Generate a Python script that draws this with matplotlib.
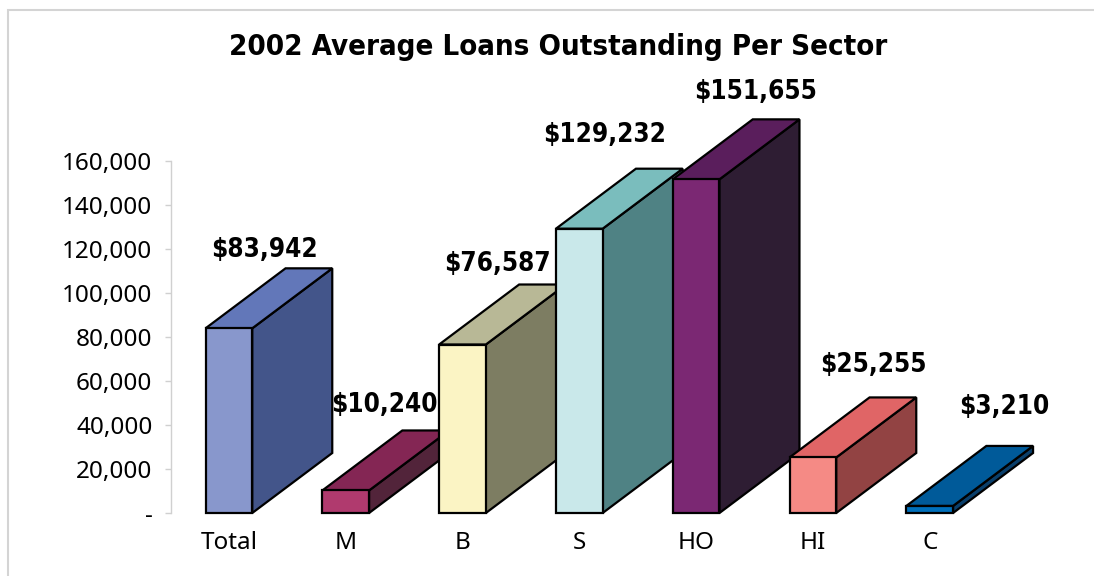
import matplotlib
matplotlib.use('Agg')
import matplotlib.pyplot as plt
from matplotlib.patches import Rectangle

# average loans per sector
categories = ['Total', 'M', 'B', 'S', 'HO', 'HI', 'C']
loans = [83942, 10240, 76587, 129232, 151655, 25255, 3210]
y_ticks = [0, 20000, 40000, 60000, 80000, 100000, 120000, 140000, 160000]
y_tick_labels = ['-', '20,000', '40,000', '60,000', '80,000', '100,000', '120,000', '140,000', '160,000']

front_colors = ['#8897CC', '#B03A6E', '#FBF4C4', '#C9E8EA', '#7B2873', '#F58A85', '#0070BB']
top_colors = ['#6277B9', '#842654', '#B8B896', '#7ABDBD', '#5A1E5C', '#E06566', '#005A99']
side_colors = ['#43558A', '#52243A', '#7D7D62', '#4F8284', '#2E1D33', '#924343', '#0A3F6B']

# where the value labels sit, px from the back top corner of each bar
label_offsets = [(-68, 18), (-65, 25), (-68, 21), (-78, 34), (-44, 27), (-43, 32), (-29, 39)]

plt.rcParams['font.family'] = ['Noto Sans']
bold = dict(family='DejaVu Sans', stretch='condensed', fontweight='bold')

W, H = 1094, 576
fig = plt.figure(figsize=(W / 100, H / 100), dpi=100)
ax = fig.add_axes([170.5 / W, (H - 513) / H, 817.6 / W, 352 / H])
ax.set_xlim(-0.5, 6.5)
ax.set_ylim(0, 160000)

bar_w = 0.4
depth_x = 80 / 116.8
depth_y = 60 / 352 * 160000
edge = dict(edgecolor='black', linewidth=1.6, joinstyle='miter', clip_on=False)

# later bars cover the sides of earlier ones, so draw left to right
for i, v in enumerate(loans):
    l, r = i - bar_w / 2, i + bar_w / 2
    ax.fill([r, r + depth_x, r + depth_x, r], [0, depth_y, v + depth_y, v],
            facecolor=side_colors[i], zorder=3 + i, **edge)
    ax.fill([l, r, r + depth_x, l + depth_x], [v, v, v + depth_y, v + depth_y],
            facecolor=top_colors[i], zorder=3 + i, **edge)
    ax.bar(i, v, width=bar_w, facecolor=front_colors[i], zorder=3 + i, **edge)

for i, v in enumerate(loans):
    ax.annotate('${:,}'.format(v), (i + bar_w / 2 + depth_x, v + depth_y),
                xytext=(label_offsets[i][0] * 0.72, label_offsets[i][1] * 0.72),
                textcoords='offset points', ha='center', va='center',
                fontsize=18.7, color='black', zorder=20, annotation_clip=False, **bold)

for s in ['top', 'right', 'bottom']:
    ax.spines[s].set_visible(False)
ax.spines['left'].set_color('#d0d0d0')
ax.spines['left'].set_linewidth(1)
ax.set_yticks(y_ticks)
ax.set_yticklabels(y_tick_labels, fontsize=17.5)
ax.tick_params(axis='y', length=4, color='#d0d0d0', pad=9, width=1)
ax.set_xticks(range(len(categories)))
ax.set_xticklabels(categories, fontsize=17.5)
ax.tick_params(axis='x', length=0, pad=13)

fig.text(558 / W, 1 - 47 / H, '2002 Average Loans Outstanding Per Sector',
         ha='center', va='center', fontsize=21.1, **bold)

# chart area border, only top and left are inside the crop
fig.add_artist(Rectangle((7.5 / W, -0.1), 1.2, 1 - 9.5 / H + 0.1, transform=fig.transFigure,
                         facecolor='none', edgecolor='#d4d4d4', linewidth=1.5))

fig.savefig('out.png', dpi=100, facecolor='white')
